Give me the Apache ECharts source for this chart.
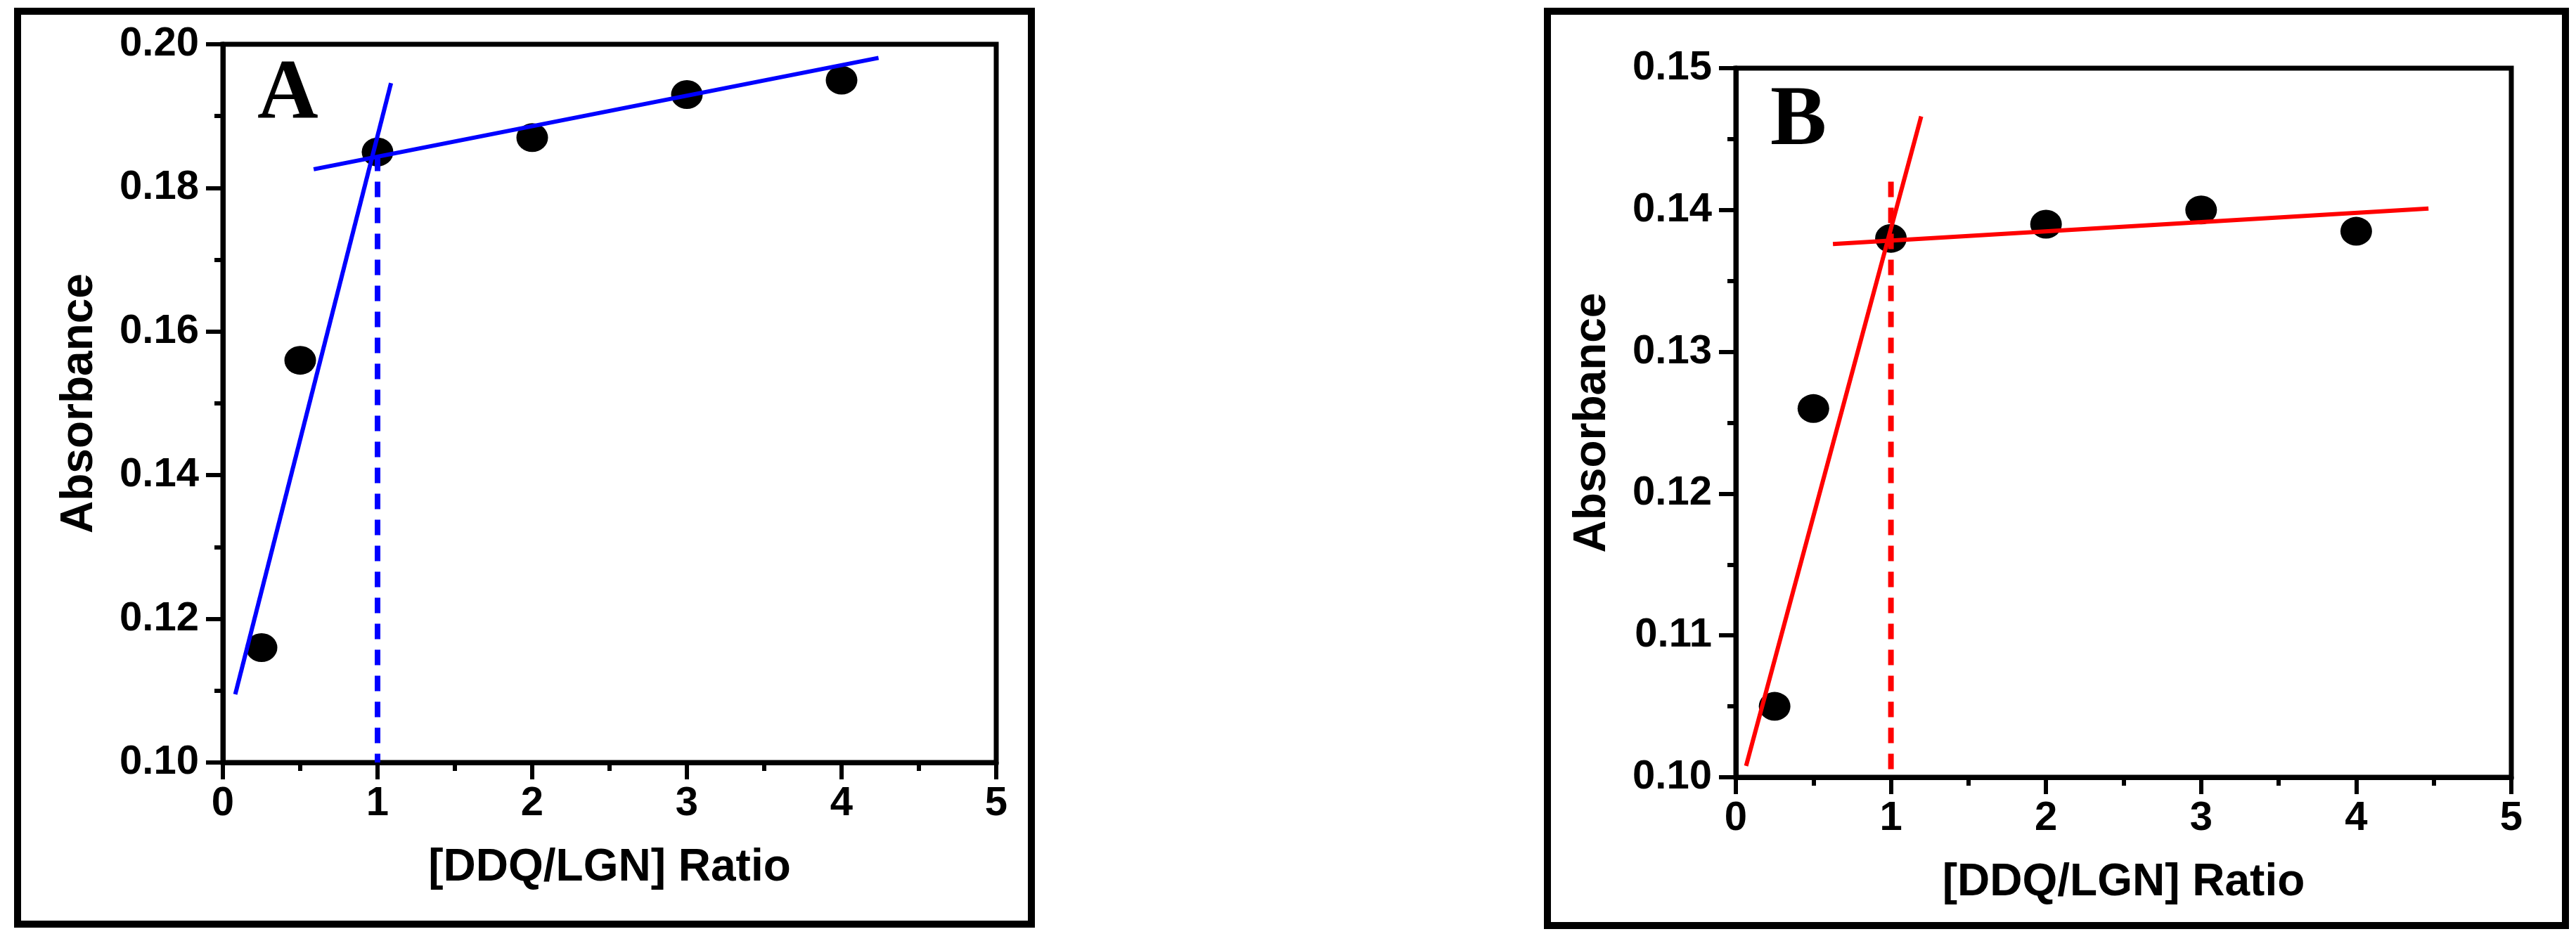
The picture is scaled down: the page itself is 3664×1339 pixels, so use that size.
<!DOCTYPE html>
<html>
<head>
<meta charset="utf-8">
<script src="https://cdn.jsdelivr.net/npm/echarts@6/dist/echarts.min.js"></script>
<style>
html, body { margin: 0; padding: 0; background: #fff; }
body { width: 3664px; height: 1339px; position: relative; overflow: hidden; }
.panel { position: absolute; box-sizing: border-box; border: 10px solid #000; background: #fff; }
#panelA { left: 20px; top: 11px; width: 1452px; height: 1309px; }
#panelB { left: 2196px; top: 11px; width: 1458px; height: 1311px; }
.chart { width: 100%; height: 100%; }
</style>
</head>
<body>
<div id="panelA" class="panel"><div id="chartA" class="chart"></div></div>
<div id="panelB" class="panel"><div id="chartB" class="chart"></div></div>
<script>
// measured points (x = [DDQ/LGN] ratio)
const ratios = [0.25, 0.5, 1, 2, 3, 4]
const absA = [0.116, 0.156, 0.185, 0.187, 0.193, 0.195]
const absB = [0.105, 0.126, 0.138, 0.139, 0.140, 0.1385]

// fitted lines
const riseA = [[0.08, 0.1095], [1.087, 0.1946]]
const plateauA = [[0.587, 0.1826], [4.239, 0.1981]]
const markA = [[1, 0.1845], [1, 0.10]]
const riseB = [[0.066, 0.1008], [1.195, 0.1466]]
const plateauB = [[0.626, 0.1376], [4.466, 0.1401]]
const markB = [[1, 0.142], [1, 0.10]]

// tick labels
const xTicks = [0, 1, 2, 3, 4, 5]
const yTicksA = [0.10, 0.12, 0.14, 0.16, 0.18, 0.20]
const yTicksB = [0.10, 0.11, 0.12, 0.13, 0.14, 0.15]

const FONT = 'Liberation Sans'

function makeOption(p) {
  const ax = {
    axisLine: { lineStyle: { color: '#000', width: 7 } },
    axisTick: { inside: false, length: 24, lineStyle: { color: '#000', width: 6 } },
    minorTick: { show: true, splitNumber: 2, length: 12, lineStyle: { color: '#000', width: 6 } },
    splitLine: { show: false },
    minorSplitLine: { show: false },
    nameLocation: 'middle',
    nameTextStyle: { color: '#000', fontFamily: FONT, fontWeight: 'bold', fontSize: 64 }
  }
  return {
    animation: false,
    grid: {
      left: p.grid[0], top: p.grid[1], width: p.grid[2], height: p.grid[3],
      show: true, borderColor: '#000', borderWidth: 7, backgroundColor: 'transparent'
    },
    graphic: [{
      type: 'text', left: p.letterPos[0], top: p.letterPos[1],
      style: { text: p.letter, fill: '#000', font: 'bold 120px "Liberation Serif"' }
    }],
    xAxis: Object.assign({}, ax, {
      type: 'value',
      min: xTicks[0], max: xTicks[xTicks.length - 1], interval: xTicks[1] - xTicks[0],
      name: '[DDQ/LGN] Ratio', nameGap: 118,
      axisLabel: { color: '#000', fontFamily: FONT, fontWeight: 'bold', fontSize: 58, margin: 30 }
    }),
    yAxis: Object.assign({}, ax, {
      type: 'value',
      min: p.yTicks[0], max: p.yTicks[p.yTicks.length - 1],
      interval: +(p.yTicks[1] - p.yTicks[0]).toFixed(4),
      name: 'Absorbance', nameGap: 172, nameRotate: 90,
      axisLabel: {
        color: '#000', fontFamily: FONT, fontWeight: 'bold', fontSize: 58, margin: 34,
        formatter: (v) => v.toFixed(2)
      }
    }),
    series: [
      {
        type: 'scatter', z: 2,
        symbol: 'circle', symbolSize: [45, 41],
        itemStyle: { color: '#000', opacity: 1 },
        data: ratios.map((r, i) => [r, p.values[i]])
      },
      {
        type: 'line', z: 3, showSymbol: false, symbol: 'none',
        lineStyle: { color: p.color, width: 6 },
        data: p.rise
      },
      {
        type: 'line', z: 3, showSymbol: false, symbol: 'none',
        lineStyle: { color: p.color, width: 6 },
        data: p.plateau
      },
      {
        type: 'line', z: 3, showSymbol: false, symbol: 'none',
        lineStyle: { color: p.color, width: 8, type: [22, 15] },
        data: p.mark
      }
    ]
  }
}

const chartA = echarts.init(document.getElementById('chartA'))
chartA.setOption(makeOption({
  grid: [287, 42, 1100, 1022],
  letter: 'A', letterPos: [336, 55],
  yTicks: yTicksA, values: absA,
  rise: riseA, plateau: plateauA, mark: markA,
  color: '#0000ff'
}))

const chartB = echarts.init(document.getElementById('chartB'))
chartB.setOption(makeOption({
  grid: [263, 76, 1103, 1009],
  letter: 'B', letterPos: [312, 93],
  yTicks: yTicksB, values: absB,
  rise: riseB, plateau: plateauB, mark: markB,
  color: '#ff0000'
}))
</script>
</body>
</html>
